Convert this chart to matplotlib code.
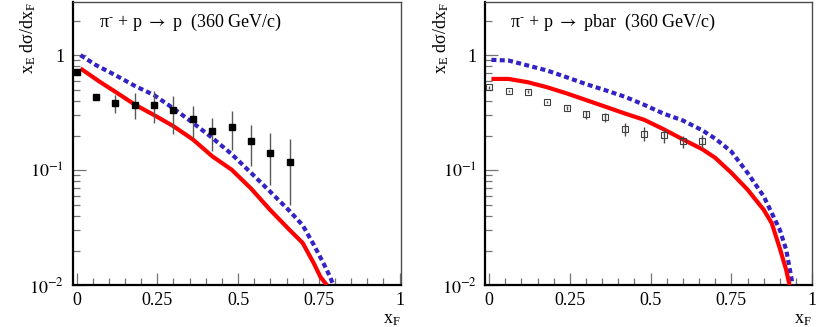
import matplotlib
matplotlib.use("Agg")
import matplotlib.pyplot as plt
from matplotlib.ticker import FixedLocator, FuncFormatter, MultipleLocator

plt.rcParams["font.family"] = ["Liberation Serif", "DejaVu Serif"]
plt.rcParams["mathtext.fontset"] = "stix"

# ---- data: pi- + p -> p ----
p_x = [0.0, 0.06, 0.12, 0.18, 0.24, 0.30, 0.36, 0.42, 0.48, 0.54, 0.60, 0.66]
p_y = [0.707, 0.431, 0.383, 0.372, 0.372, 0.332, 0.276, 0.217, 0.235, 0.178, 0.141, 0.118]
p_lo = [0.707, 0.431, 0.315, 0.276, 0.255, 0.208, 0.192, 0.147, 0.151, 0.109, 0.074, 0.0496]
p_hi = [0.707, 0.431, 0.449, 0.470, 0.486, 0.440, 0.360, 0.285, 0.326, 0.246, 0.211, 0.186]

p_red_x = [0.012, 0.072, 0.12, 0.18, 0.24, 0.30, 0.36, 0.42, 0.48, 0.54, 0.60, 0.66,
           0.70, 0.735, 0.755, 0.775]
p_red_y = [0.766, 0.586, 0.48, 0.372, 0.301, 0.241, 0.185, 0.132, 0.101, 0.0693, 0.0449,
           0.0301, 0.0233, 0.0154, 0.0118, 0.0100]

p_blue_x = [0.012, 0.06, 0.12, 0.18, 0.24, 0.30, 0.36, 0.42, 0.48, 0.54, 0.60, 0.66,
            0.70, 0.735, 0.765, 0.785, 0.795]
p_blue_y = [1.0, 0.819, 0.670, 0.541, 0.449, 0.344, 0.258, 0.191, 0.138, 0.0948, 0.0648,
            0.0440, 0.0332, 0.0223, 0.0154, 0.0118, 0.0100]

# ---- data: pi- + p -> pbar ----
pb_x = [0.0, 0.06, 0.12, 0.18, 0.24, 0.30, 0.36, 0.42, 0.48, 0.54, 0.60, 0.66]
pb_y = [0.525, 0.488, 0.481, 0.391, 0.348, 0.307, 0.289, 0.229, 0.208, 0.201, 0.181, 0.181]
pb_lo = [0.51, 0.475, 0.468, 0.38, 0.335, 0.281, 0.263, 0.198, 0.179, 0.171, 0.155, 0.157]
pb_hi = [0.54, 0.50, 0.494, 0.40, 0.36, 0.328, 0.313, 0.256, 0.235, 0.227, 0.198, 0.201]

pb_red_x = [0.007, 0.06, 0.12, 0.18, 0.24, 0.30, 0.36, 0.42, 0.48, 0.54, 0.60, 0.66,
            0.70, 0.75, 0.80, 0.85, 0.875, 0.90, 0.92, 0.93]
pb_red_y = [0.621, 0.621, 0.581, 0.525, 0.465, 0.407, 0.356, 0.311, 0.274, 0.227, 0.185,
            0.152, 0.128, 0.0948, 0.0678, 0.0453, 0.0346, 0.0209, 0.0135, 0.0100]

pb_blue_x = [0.007, 0.06, 0.12, 0.18, 0.24, 0.30, 0.36, 0.42, 0.48, 0.54, 0.60, 0.66,
             0.70, 0.75, 0.80, 0.85, 0.875, 0.90, 0.92, 0.94]
pb_blue_y = [0.91, 0.898, 0.812, 0.734, 0.642, 0.560, 0.495, 0.435, 0.370, 0.310, 0.270,
             0.222, 0.188, 0.145, 0.0948, 0.0593, 0.0424, 0.0303, 0.0202, 0.0100]

x_ticks = [0, 0.25, 0.5, 0.75, 1]
x_tick_labels = ["0", "0.25", "0.5", "0.75", "1"]
y_ticks = [0.01, 0.1, 1]
y_tick_labels = {0.01: r"$10^{-2}$", 0.1: r"$10^{-1}$", 1: "1"}

RED = "#ff0000"
BLUE = "#3322c4"


def style_axes(ax, xmax):
    ax.set_yscale("log")
    ax.set_xlim(-0.012, xmax)
    ax.set_ylim(0.01, 2.9)
    ax.xaxis.set_major_locator(FixedLocator(x_ticks))
    ax.set_xticklabels(x_tick_labels)
    ax.xaxis.set_minor_locator(MultipleLocator(0.05))
    ax.yaxis.set_major_locator(FixedLocator(y_ticks))
    minors = [m * 10.0 ** e for e in (-2, -1, 0) for m in range(2, 10)]
    ax.yaxis.set_minor_locator(FixedLocator(minors))
    ax.yaxis.set_major_formatter(FuncFormatter(lambda v, p: y_tick_labels.get(round(v, 3), "")))
    ax.yaxis.set_minor_formatter(FuncFormatter(lambda v, p: ""))
    ax.tick_params(which="both", direction="in", top=False, right=False,
                   color="0.45", labelsize=13)
    ax.tick_params(which="major", length=9, width=0.9)
    ax.tick_params(which="minor", length=5, width=0.9)
    ax.tick_params(axis="y", pad=6)
    ax.tick_params(axis="x", pad=5)
    for side in ("left", "bottom"):
        ax.spines[side].set_linewidth(1.6)
    for side in ("top", "right"):
        ax.spines[side].set_linewidth(1.0)
        ax.spines[side].set_color("0.3")
    ax.set_ylabel(r"$\mathregular{x_E\ d\sigma/dx_F}$", fontsize=13)
    ax.yaxis.set_label_coords(-0.165, 1.0)
    ax.yaxis.label.set_verticalalignment("top")
    ax.yaxis.label.set_horizontalalignment("right")
    ax.set_xlabel(r"$\mathregular{x_F}$", fontsize=13)
    ax.xaxis.set_label_coords(1.0, -0.09)
    ax.xaxis.label.set_horizontalalignment("right")


fig = plt.figure(figsize=(8.17, 3.27), dpi=100)
ax1 = fig.add_axes([0.089, 0.128, 0.402, 0.866])
ax2 = fig.add_axes([0.594, 0.128, 0.400, 0.866])

# left panel
ax1.plot(p_blue_x, p_blue_y, color=BLUE, lw=3.0, linestyle=(0, (1.2, 0.8)), zorder=3)
ax1.plot(p_red_x, p_red_y, color=RED, lw=3.0, solid_capstyle="butt", zorder=3)
ax1.errorbar(p_x, p_y,
             yerr=[[y - lo for y, lo in zip(p_y, p_lo)], [hi - y for y, hi in zip(p_y, p_hi)]],
             fmt="s", ms=4.5, color="black", ecolor="0.35", elinewidth=1.0, capsize=0, zorder=4,
             clip_on=False)
ax1.text(0.08, 0.965, "π$^{\\text{-}}$ + p $\\rightarrow$ p  (360 GeV/c)",
         transform=ax1.transAxes, fontsize=13, va="top", ha="left")
style_axes(ax1, 1.005)

# right panel
ax2.plot(pb_blue_x, pb_blue_y, color=BLUE, lw=3.0, linestyle=(0, (1.2, 0.8)), zorder=3)
ax2.plot(pb_red_x, pb_red_y, color=RED, lw=3.0, solid_capstyle="butt", zorder=3)
ax2.errorbar(pb_x, pb_y,
             yerr=[[y - lo for y, lo in zip(pb_y, pb_lo)], [hi - y for y, hi in zip(pb_y, pb_hi)]],
             fmt="s", ms=5.0, mfc="none", mec="0.25", mew=0.8, color="0.25", ecolor="0.3",
             elinewidth=1.0, capsize=0, zorder=4, clip_on=False)
ax2.text(0.075, 0.965, "π$^{\\text{-}}$ + p $\\rightarrow$ pbar  (360 GeV/c)",
         transform=ax2.transAxes, fontsize=13, va="top", ha="left")
style_axes(ax2, 1.0)

fig.savefig("out.png", dpi=100, facecolor="white")
